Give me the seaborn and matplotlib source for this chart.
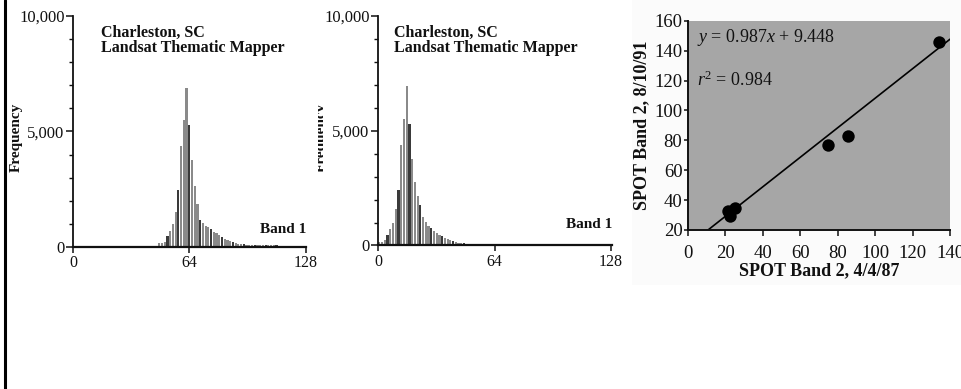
import numpy as np
import pandas as pd
import matplotlib
matplotlib.use("Agg")
import matplotlib.pyplot as plt
import seaborn as sns
from matplotlib.ticker import FuncFormatter, MultipleLocator, FixedLocator
from matplotlib.transforms import Bbox, TransformedBbox
from matplotlib.patches import Rectangle
from matplotlib.lines import Line2D

# ---------------- data ----------------
# Histogram 1 (Band 1, brightness levels vs frequency)
levels1 = np.arange(47.5, 128, 1.5)
freq1 = [175, 175, 235, 470, 700, 980, 1535, 2455, 4385, 5480, 6900, 5260, 3760,
         2630, 1860, 1170, 1050, 900, 880,
         760, 660, 585, 510, 440, 365, 320, 260, 220, 190, 146, 120, 110, 100, 100,
         95, 95, 90, 85, 80, 80, 75, 70, 70, 65, 60, 60, 55, 55, 50, 50, 45, 45, 40, 40]

# Histogram 2 (Band 1, second image)
levels2 = np.arange(0.75, 78, 1.5)
freq2 = [150, 160, 250, 465, 725, 975, 1600, 2430, 4360, 5520, 6930, 5300, 3780,
         2760, 2140, 1750, 1235, 1020, 870, 760, 640, 550, 470, 395, 325, 265, 220,
         178, 145, 118, 100, 95, 85, 75, 70, 65, 60, 55, 50, 50, 45, 45, 60, 40, 38,
         35, 32, 30, 28, 25, 22, 20]

hist_xticks = [0, 64, 128]
hist_yticks = [0, 5000, 10000]
hist_title = ["Charleston, SC", "Landsat Thematic Mapper"]
band_label = "Band 1"

# SPOT scatter
spot87 = [21.5, 22.5, 25, 75, 85.5, 134]
spot91 = [32.5, 29.5, 34.5, 77, 83, 146]
slope, intercept = 0.987, 9.448
r2 = 0.984
spot_xticks = [0, 20, 40, 60, 80, 100, 120, 140]
spot_yticks = [20, 40, 60, 80, 100, 120, 140, 160]

# ---------------- style ----------------
sns.set_style("ticks")
plt.rcParams["font.family"] = ["Liberation Serif", "DejaVu Serif"]
plt.rcParams["mathtext.fontset"] = "custom"
plt.rcParams["mathtext.rm"] = "Liberation Serif"
plt.rcParams["mathtext.it"] = "Liberation Serif:italic"
plt.rcParams["text.color"] = "#111111"
plt.rcParams["axes.labelcolor"] = "#111111"
plt.rcParams["xtick.color"] = "#111111"
plt.rcParams["ytick.color"] = "#111111"

W, H = 962, 389
fig = plt.figure(figsize=(W / 100, H / 100), dpi=100)
fig.patch.set_facecolor("white")


def fx(px):
    return px / W


def fy(py):
    return 1 - py / H


# faint scan background around the scatter panel
bg = Rectangle((fx(632), fy(285)), 1 - fx(632), fy(0) - fy(285),
               transform=fig.transFigure, facecolor="#fbfbfb",
               edgecolor="none", zorder=-5)
fig.add_artist(bg)
# left border line
fig.add_artist(Line2D([fx(5), fx(5)], [0, 1], transform=fig.transFigure,
                      color="black", lw=2.2))


def hist_panel(rect, levels, freq):
    ax = fig.add_axes(rect)
    sns.barplot(x=levels, y=freq, native_scale=True, width=0.8, color="#8e8e8e",
                saturation=1, errorbar=None, ax=ax)
    for i, p in enumerate(ax.patches):
        p.set_linewidth(0)
        if i % 4 == 3:
            p.set_facecolor("#3a3a3a")
        else:
            p.set_facecolor("#8a8a8a")
    ax.set_xlim(0, 128.5)
    ax.set_ylim(0, 10000)
    sns.despine(ax=ax)
    ax.spines["left"].set_linewidth(1.3)
    ax.spines["bottom"].set_linewidth(1.6)
    ax.spines["left"].set_color("#111111")
    ax.spines["bottom"].set_color("#111111")
    ax.xaxis.set_major_locator(FixedLocator(hist_xticks))
    ax.yaxis.set_major_locator(FixedLocator(hist_yticks))
    ax.yaxis.set_minor_locator(MultipleLocator(1000))
    ax.yaxis.set_major_formatter(FuncFormatter(lambda v, p: f"{int(v):,}"))
    ax.tick_params(axis="y", which="major", length=5, width=1.1, labelsize=12, pad=1)
    ax.tick_params(axis="y", which="minor", length=3, width=1.0, left=True)
    ax.tick_params(axis="x", which="major", length=4, width=1.1, labelsize=11.5, pad=2)
    ax.set_xlabel("")
    ax.set_ylabel("")
    ax.patch.set_alpha(0)
    return ax


ax1 = hist_panel([fx(73), fy(247), (306.5 - 73) / W, (247 - 16) / H], levels1, freq1)
ax2 = hist_panel([fx(378), fy(245.5), (612 - 378) / W, (245.5 - 15.7) / H], levels2, freq2)

# panel titles / labels
for x0, bx, by in [(101, 306, 229), (394, 612, 224)]:
    fig.text(fx(x0), fy(33), hist_title[0], fontsize=11.5, fontweight="bold",
             ha="left", va="center")
    fig.text(fx(x0), fy(48), hist_title[1], fontsize=11.5, fontweight="bold",
             ha="left", va="center")
    fig.text(fx(bx), fy(by), band_label, fontsize=11, fontweight="bold",
             ha="right", va="center")

fig.text(fx(16), fy(137), "Frequency", rotation=90, fontsize=11,
         fontweight="bold", ha="center", va="center")
t = fig.text(fx(321), fy(137), "Frequency", rotation=90, fontsize=11,
             fontweight="bold", ha="center", va="center")
t.set_clip_box(TransformedBbox(Bbox([[fx(318), 0], [fx(323), 1]]), fig.transFigure))
t.set_clip_on(True)

# ---------------- scatter panel ----------------
ax3 = fig.add_axes([fx(688), fy(230), (950 - 688) / W, (230 - 20.7) / H])
ax3.set_facecolor("#a6a6a6")
line_x = np.array([0.0, 140.0])
sns.lineplot(x=line_x, y=slope * line_x + intercept, color="black", lw=1.2, ax=ax3)
sns.scatterplot(x=spot87, y=spot91, s=80, color="black", edgecolor="black",
                linewidth=0, ax=ax3, zorder=3)
ax3.set_xlim(0, 140)
ax3.set_ylim(20, 160)
ax3.xaxis.set_major_locator(FixedLocator(spot_xticks))
ax3.yaxis.set_major_locator(FixedLocator(spot_yticks))
for s in ["top", "right"]:
    ax3.spines[s].set_visible(False)
for s in ["left", "bottom"]:
    ax3.spines[s].set_linewidth(1.4)
    ax3.spines[s].set_color("#111111")
ax3.tick_params(axis="y", length=3, width=1.1, labelsize=13.5, pad=1)
ax3.tick_params(axis="x", length=4, width=1.1, labelsize=13.5, pad=7)
for lbl in ax3.get_xticklabels():
    lbl.set_clip_on(False)
ax3.set_xlabel("SPOT Band 2, 4/4/87", fontsize=13, fontweight="bold", labelpad=0)
ax3.set_ylabel("SPOT Band 2, 8/10/91", fontsize=13, fontweight="bold", labelpad=3)
ax3.text(fx(697), fy(37), f"$y$ = {slope:.3f}$x$ + {intercept:.3f}",
         transform=fig.transFigure, fontsize=13, ha="left", va="center")
ax3.text(fx(697), fy(80), f"$r^2$ = {r2:.3f}", transform=fig.transFigure,
         fontsize=13, ha="left", va="center")

fig.savefig("out.png", dpi=100, facecolor="white")
